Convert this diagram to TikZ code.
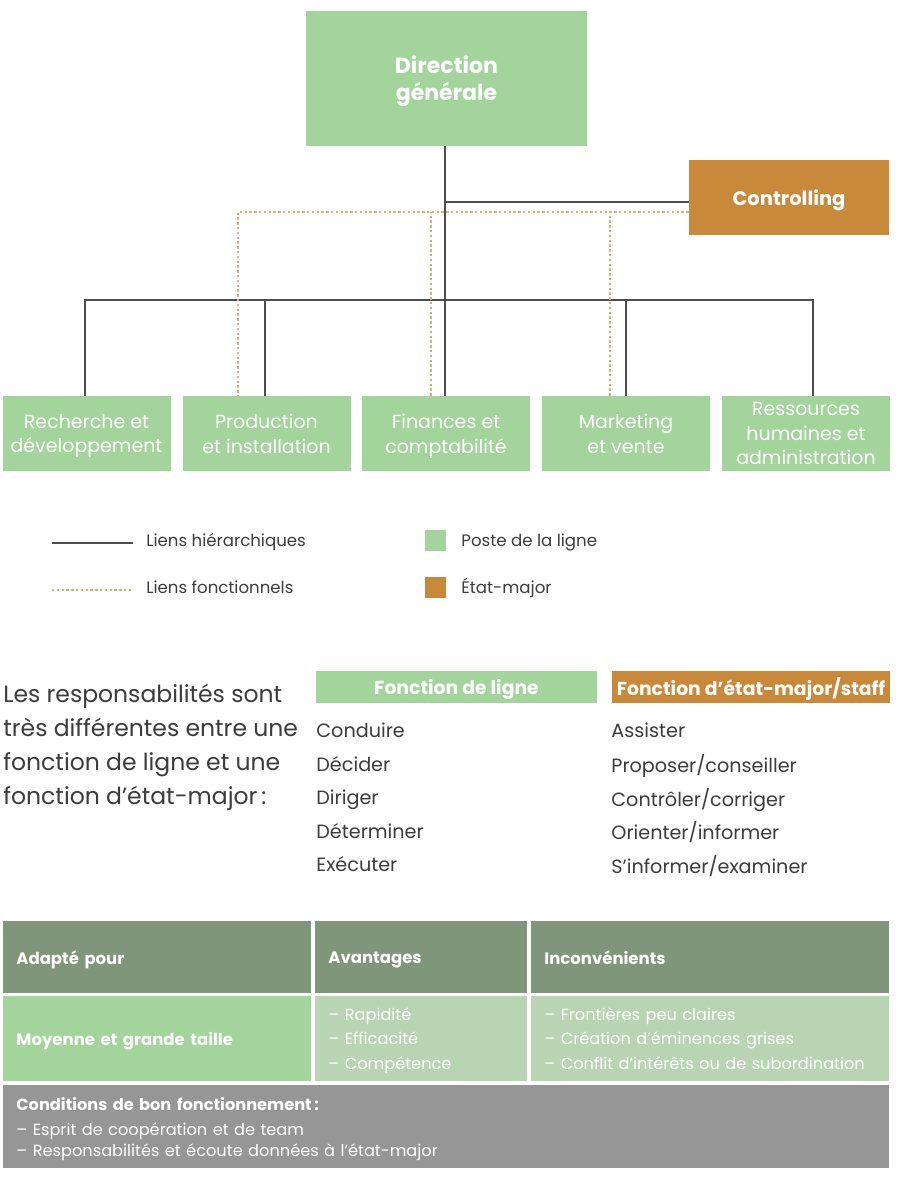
\documentclass[tikz,border=0pt]{standalone}
\usepackage{fontspec}
\setmainfont{Poppins}
\definecolor{linegreen}{HTML}{A3D49B}
\definecolor{staffbrown}{HTML}{C8893B}
\definecolor{headgreen}{HTML}{7F967A}
\definecolor{palegreen}{HTML}{B9D4B3}
\definecolor{condgray}{HTML}{969696}
\definecolor{dotorange}{HTML}{DDAE72}
\definecolor{hierline}{HTML}{4D4D4D}
\definecolor{bodytext}{HTML}{3C3C3C}
\begin{document}
\begin{tikzpicture}[
  x=0.5pt, y=-0.5pt,
  unitbox/.style={rectangle, fill=linegreen, text=white, align=center, minimum width=84pt, minimum height=37.5pt, inner sep=0pt, text depth=0pt, font=\fontsize{9.5}{12.4}\selectfont},
  topbox/.style={rectangle, fill=linegreen, text=white, align=center, minimum width=140.5pt, minimum height=67.5pt, inner sep=0pt, text depth=0pt, font=\bfseries\fontsize{11}{13.5}\selectfont},
  staffbox/.style={rectangle, fill=staffbrown, text=white, align=center, minimum width=100pt, minimum height=37.5pt, inner sep=0pt, text depth=0pt, font=\bfseries\fontsize{9.75}{12}\selectfont},
  hier/.style={draw=hierline, line width=0.7pt},
  func/.style={draw=dotorange, line width=0.6pt, dash pattern=on 1.2pt off 1.2pt},
  legtext/.style={anchor=west, inner sep=0pt, text=bodytext, text depth=0pt, font=\fontsize{8.3}{10}\selectfont},
  legsquare/.style={rectangle, minimum size=10.5pt, inner sep=0pt},
  headbar/.style={rectangle, text=white, minimum height=16pt, inner sep=0pt, text depth=0pt, font=\bfseries\fontsize{9.4}{11}\selectfont},
  listitem/.style={anchor=west, inner sep=0pt, text=bodytext, text depth=0pt, font=\fontsize{9.6}{11}\selectfont},
  cell/.style={rectangle, anchor=north west, text=white, align=left, inner xsep=6.5pt, inner ysep=0pt, font=\fontsize{8.1}{12.25}\selectfont},
  boldcell/.style={cell, text depth=0pt, font=\bfseries\fontsize{8.25}{12.25}\selectfont}
]
\fill[white] (0,0) rectangle (908,1186);
\useasboundingbox (0,0) rectangle (908,1186);

% Organisation chart
\node[topbox] (dg) at (446.5,78.5) {Direction\\générale};
\node[staffbox] (ctrl) at (789,197.5) {Controlling};

\node[unitbox] (rd) at (86.5,433.5) {Recherche et\\développement};
\node[unitbox] (pi) at (266.5,433.5) {Production\\et installation};
\node[unitbox] (fc) at (446,433.5) {Finances et\\comptabilité};
\node[unitbox] (mv) at (626,433.5) {Marketing\\et vente};
\node[unitbox] (hr) at (806,433.5) {Ressources\\humaines et\\administration};

\coordinate (bus) at (445,300);
\coordinate (cj) at (445,202);
\coordinate (fj) at (238,212);

% Hierarchical links
\draw[hier] ([xshift=-0.75pt]dg.south) -- ([xshift=-0.5pt]fc.north);
\draw[hier] (cj) -- (cj -| ctrl.west);
\draw[hier] ([xshift=-0.75pt]rd.north) -- ([xshift=-0.75pt]rd.north |- bus) -- ([xshift=3.5pt]hr.north |- bus) -- ([xshift=3.5pt]hr.north);
\draw[hier] ([xshift=-0.75pt]pi.north) -- ([xshift=-0.75pt]pi.north |- bus);
\draw[hier] (mv.north) -- (mv.north |- bus);

% Functional links
\draw[func] (fj -| ctrl.west) -- (fj) -- (fj |- pi.north);
\draw[func] ([xshift=-7.5pt]fc.north) -- ([xshift=-7.5pt]fc.north |- fj);
\draw[func] ([xshift=-8pt]mv.north) -- ([xshift=-8pt]mv.north |- fj);

% Legend
\coordinate (lh1) at (52,543);
\coordinate (lh2) at (133,543);
\coordinate (lf1) at (52,590);
\coordinate (lf2) at (133,590);
\draw[hier] (lh1) -- (lh2);
\draw[func] (lf1) -- (lf2);
\node[legtext] (lhtext) at (146,540) {Liens hiérarchiques};
\node[legtext] (lftext) at (146,587.5) {Liens fonctionnels};
\node[legsquare, fill=linegreen] (sqline) at (435.5,540) {};
\node[legsquare, fill=staffbrown] (sqstaff) at (435.5,587.5) {};
\node[legtext] (linetext) at (461,540) {Poste de la ligne};
\node[legtext] (stafftext) at (461,586) {État-major};

% Line and staff functions
\node[anchor=west, inner sep=0pt, align=left, text=bodytext, text depth=0pt, font=\fontsize{11.75}{16.9}\selectfont] (intro) at (3,744.5)
  {Les responsabilités sont\\très différentes entre une\\fonction de ligne et une\\fonction d’état-major\,:};
\node[headbar, fill=linegreen, minimum width=140.5pt] (linehead) at (456.5,687) {Fonction de ligne};
\node[headbar, fill=staffbrown, minimum width=139pt] (staffhead) at (751,687) {Fonction d’état-major/staff};

\node[listitem] (l1) at (316,730) {Conduire};
\node[listitem] (l2) at (316,763.5) {Décider};
\node[listitem] (l3) at (316,797) {Diriger};
\node[listitem] (l4) at (316,830.5) {Déterminer};
\node[listitem] (l5) at (316,864) {Exécuter};

\node[listitem] (s1) at (611,730) {Assister};
\node[listitem] (s2) at (611,763) {Proposer/conseiller};
\node[listitem] (s3) at (611,797) {Contrôler/corriger};
\node[listitem] (s4) at (611,830.5) {Orienter/informer};
\node[listitem] (s5) at (611,864) {S’informer/examiner};

% Summary table
\node[boldcell, fill=headgreen, minimum width=154pt, minimum height=36pt, text width=141pt] (h1) at (3,921) {Adapté pour};
\node[boldcell, fill=headgreen, minimum width=106pt, minimum height=36pt, text width=93pt] (h2) at (315,921) {Avantages};
\node[boldcell, fill=headgreen, minimum width=179pt, minimum height=36pt, text width=166pt] (h3) at (531,921) {Inconvénients};

\node[boldcell, fill=linegreen, minimum width=154pt, minimum height=42.5pt, text width=141pt] (b1) at (3,996) {Moyenne et grande taille};
\node[cell, fill=palegreen, minimum width=106pt, minimum height=42.5pt, text width=93pt, text height=0pt, text depth=18.8pt] (b2) at (315,996) {– Rapidité\\– Efficacité\\– Compétence};
\node[cell, fill=palegreen, minimum width=179pt, minimum height=42.5pt, text width=166pt, text height=0pt, text depth=18.8pt] (b3) at (531,996) {– Frontières peu claires\\– Création d’éminences grises\\– Conflit d’intérêts ou de subordination};

\node[cell, fill=condgray, minimum width=443pt, minimum height=41.5pt, text width=430pt, text height=0pt, text depth=16.7pt] (cond) at (3,1085)
  {\textbf{Conditions de bon fonctionnement\,:}\\[0.25pt]– Esprit de coopération et de team\\[-1.75pt]– Responsabilités et écoute données à l’état-major};

\end{tikzpicture}
\end{document}
